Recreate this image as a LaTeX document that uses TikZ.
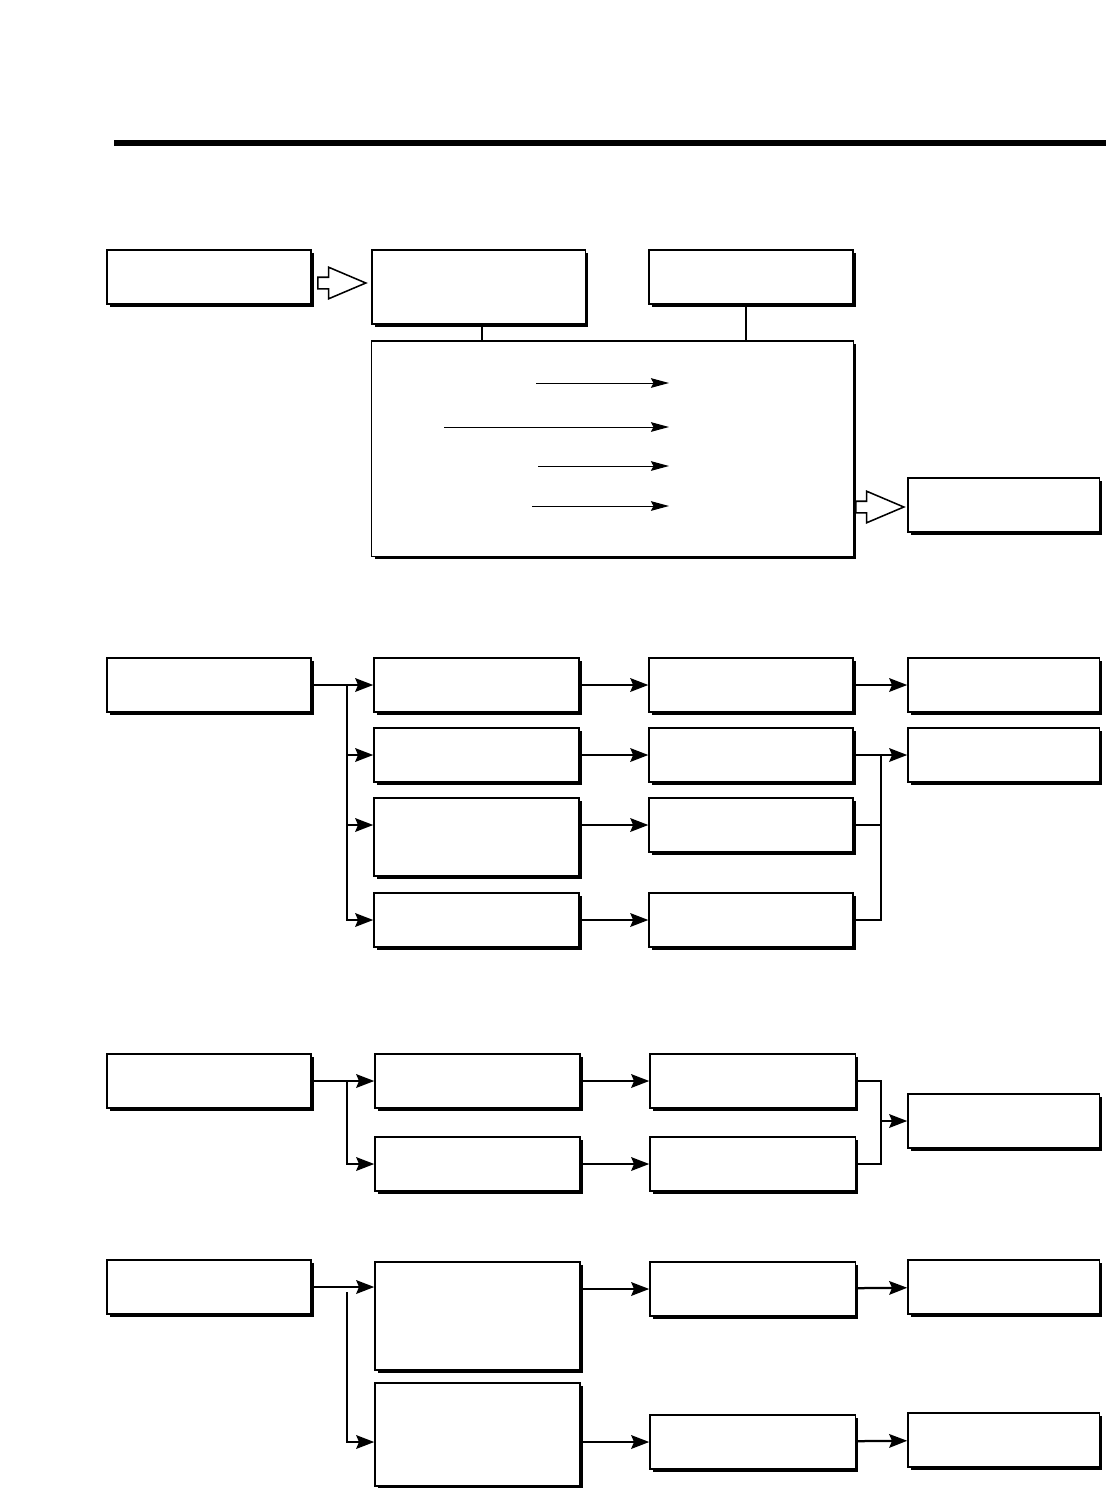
\documentclass[tikz,border=0pt]{standalone}
\usepackage{tikz}
\usetikzlibrary{shapes,arrows.meta,positioning,calc,shadows}

\begin{document}
\begin{tikzpicture}[x=0.025cm, y=-0.025cm,
        box/.style={draw, fill=white, line width=0.9pt, inner sep=0pt,
            minimum width=5.1cm, minimum height=1.35cm,
            drop shadow={shadow xshift=0.07cm, shadow yshift=-0.07cm, fill=black, opacity=1}},
        endbox/.style={box, minimum width=4.78cm},
        conn/.style={line width=1.6pt, -{Stealth[length=0.45cm, width=0.34cm, inset=0.07cm]}},
        link/.style={line width=1.6pt},
        thinarr/.style={line width=0.7pt, -{Stealth[length=0.45cm, width=0.24cm, inset=0.06cm]}},
        blockarrow/.style={single arrow, draw, fill=white, line width=1.1pt, inner sep=0.125cm,
            minimum height=1.2cm, single arrow head extend=0.25cm, single arrow tip angle=46}]
        \useasboundingbox (0,0) rectangle (1106,1488);

        % Top rule
        \coordinate (ruleL) at (114,143);
        \coordinate (ruleR) at (1106,143);
        \draw[line width=3.6pt] (ruleL) -- (ruleR);

        % Nodes (first block)
        \node[box] (A) at (209,277) {};
        \node[box, minimum width=5.33cm, minimum height=1.85cm] (B) at (478.5,287) {};
        \node[box] (C) at (751,277) {};
        \node[box, minimum width=12.03cm, minimum height=5.38cm] (D) at (612.5,448.5) {};
        \node[endbox] (E) at (1003.5,505) {};
        \node[blockarrow] (AB) at (335,283) {};
        \node[blockarrow] (DE) at (873,507) {};

        % Links
        \draw[link] ([xshift=0.09cm]B.south) -- ([xshift=0.09cm]B.south |- D.north);
        \draw[link] ([xshift=-0.12cm]C.south) -- ([xshift=-0.12cm]C.south |- D.north);

        % Arrows inside D
        \coordinate (d1) at (536,383);  \coordinate (d1e) at (669,383);
        \coordinate (d2) at (444,427);  \coordinate (d2e) at (669,427);
        \coordinate (d3) at (538,466);  \coordinate (d3e) at (669,466);
        \coordinate (d4) at (532,506);  \coordinate (d4e) at (669,506);
        \draw[thinarr] (d1) -- (d1e);
        \draw[thinarr] (d2) -- (d2e);
        \draw[thinarr] (d3) -- (d3e);
        \draw[thinarr] (d4) -- (d4e);

        % Nodes (second block)
        \node[box] (F) at (209,685) {};
        \node[box, minimum width=5.13cm] (G1) at (476.5,685) {};
        \node[box, minimum width=5.13cm] (G2) at (476.5,755) {};
        \node[box, minimum width=5.13cm, minimum height=1.95cm] (G3) at (476.5,837) {};
        \node[box, minimum width=5.13cm] (G4) at (476.5,920) {};
        \node[box] (H1) at (751,685) {};
        \node[box] (H2) at (751,755) {};
        \node[box] (H3) at (751,825) {};
        \node[box] (H4) at (751,920) {};
        \node[endbox] (I1) at (1003.5,685) {};
        \node[endbox] (I2) at (1003.5,755) {};
        \coordinate (fs) at (347,685);
        \coordinate (hm) at (881,755);

        % Links
        \draw[conn] (F) -- (G1);
        \draw[conn] (fs) |- (G4);
        \draw[conn] (fs |- G2) -- (G2);
        \draw[conn] (fs |- H3) -- (G3.west |- H3);
        \draw[conn] (G1) -- (H1);
        \draw[conn] (G2) -- (H2);
        \draw[conn] (G3.east |- H3) -- (H3);
        \draw[conn] (G4) -- (H4);
        \draw[conn] (H1) -- (I1);
        \draw[conn] (H2) -- (I2);
        \draw[link] (H4.east) -| (hm);
        \draw[link] (H3.east) -- (H3.east -| hm);

        % Nodes (third block)
        \node[box] (J) at (209,1081) {};
        \node[box, minimum width=5.13cm] (K1) at (477.5,1081) {};
        \node[box, minimum width=5.13cm] (K2) at (477.5,1164) {};
        \node[box, minimum width=5.13cm] (L1) at (752.5,1081) {};
        \node[box, minimum width=5.13cm] (L2) at (752.5,1164) {};
        \node[endbox] (M) at (1003.5,1121) {};
        \coordinate (js) at (347,1081);
        \coordinate (lm) at (881,1121);

        % Links
        \draw[conn] (J) -- (K1);
        \draw[conn] (js) |- (K2);
        \draw[conn] (K1) -- (L1);
        \draw[conn] (K2) -- (L2);
        \draw[link] (L1.east) -| (lm) |- (L2.east);
        \draw[conn] (lm) -- (M);

        % Nodes (fourth block)
        \node[box] (N) at (209,1287) {};
        \node[box, minimum width=5.13cm, minimum height=2.7cm] (P1) at (477.5,1316) {};
        \node[box, minimum width=5.13cm, minimum height=2.58cm] (P2) at (477.5,1434.5) {};
        \node[box, minimum width=5.13cm] (Q1) at (752.5,1289) {};
        \node[box, minimum width=5.13cm] (Q2) at (752.5,1442) {};
        \node[endbox] (R1) at (1003.5,1287) {};
        \node[endbox] (R2) at (1003.5,1440) {};
        \coordinate (ns) at (347,1292);

        % Links
        \draw[conn] (N) -- (P1.west |- N);
        \draw[conn] (ns) |- (P2.west |- Q2);
        \draw[conn] (P1.east |- Q1) -- (Q1);
        \draw[conn] (P2.east |- Q2) -- (Q2);
        \draw[conn] (Q1) -- (R1);
        \draw[conn] (Q2) -- (R2);
    \end{tikzpicture}
\end{document}
